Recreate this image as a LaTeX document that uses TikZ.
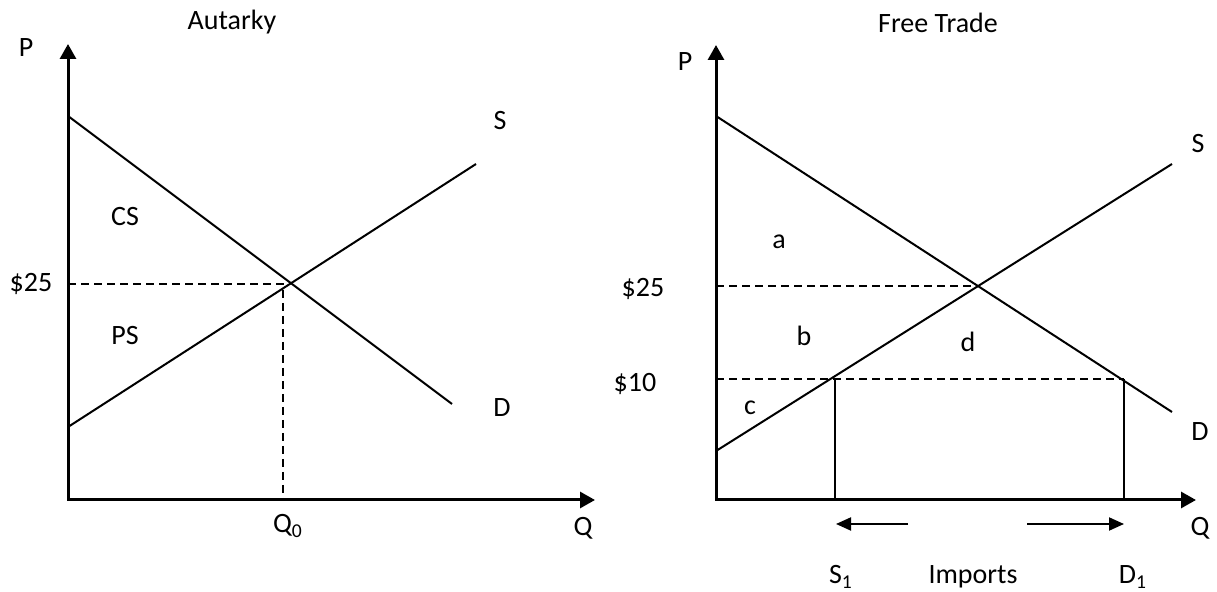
\documentclass[tikz,border=0pt]{standalone}
\usepackage{fontspec}
\setmainfont{Carlito}
\usetikzlibrary{arrows.meta, positioning}

\begin{document}
\begin{tikzpicture}[x=0.5pt, y=-0.5pt, >={Triangle[width=8pt,length=7.5pt]},
        font=\fontsize{14}{17}\selectfont,
        axis/.style={line width=1.5pt, <->},
        curve/.style={line width=1pt},
        guide/.style={line width=1pt, dash pattern=on 4pt off 2.5pt},
        move/.style={line width=1pt, -{Triangle[width=6.5pt,length=7.5pt]}}]
        \useasboundingbox (0,0) rectangle (1217,592);

        % Autarky
        \coordinate (aO) at (68,500);
        \coordinate (aPtop) at (68,44);
        \coordinate (aQend) at (595,500);
        \coordinate (aDa) at (68,116);
        \coordinate (aDb) at (452,404);
        \coordinate (aSa) at (68,427);
        \coordinate (aSb) at (476,164);
        \coordinate (aP25) at (68,284);
        \coordinate (aE) at (283,284);
        \coordinate (aQ0) at (283,500);
        \draw[axis] (aPtop) -- (aO) -- (aQend);
        \draw[curve] (aDa) -- (aDb);
        \draw[curve] (aSa) -- (aSb);
        \draw[guide] (aP25) -- (aE) -- (aQ0);
        \node (aTitle) at (232,22) {Autarky};
        \node (aP) at (26,48) {P};
        \node (aS) at (500,121) {S};
        \node (aD) at (502,408) {D};
        \node (aCS) at (125,217) {CS};
        \node (aPS) at (125,336) {PS};
        \node (a25) at (31,284) {\$25};
        \node (aQ0lbl) at (288,526) {Q\textsubscript{0}};
        \node (aQ) at (583,528) {Q};

        % Free trade
        \coordinate (fO) at (716,500);
        \coordinate (fPtop) at (716,45);
        \coordinate (fQend) at (1196,500);
        \coordinate (fDa) at (716,116);
        \coordinate (fDb) at (1172,412);
        \coordinate (fSa) at (716,451);
        \coordinate (fSb) at (1172,164);
        \coordinate (fP25) at (716,286);
        \coordinate (fE) at (978,286);
        \coordinate (fP10) at (716,379);
        \coordinate (fS1top) at (835,379);
        \coordinate (fD1top) at (1124,379);
        \coordinate (fS1) at (835,500);
        \coordinate (fD1) at (1124,500);
        \coordinate (fLa) at (908,524);
        \coordinate (fLb) at (836,524);
        \coordinate (fRa) at (1027,524);
        \coordinate (fRb) at (1124,524);
        \draw[axis] (fPtop) -- (fO) -- (fQend);
        \draw[curve] (fDa) -- (fDb);
        \draw[curve] (fSa) -- (fSb);
        \draw[guide] (fP25) -- (fE);
        \draw[guide] (fP10) -- (fD1top);
        \draw[curve] (fS1top) -- (fS1);
        \draw[curve] (fD1top) -- (fD1);
        \draw[move] (fLa) -- (fLb);
        \draw[move] (fRa) -- (fRb);
        \node (fTitle) at (938,23) {Free Trade};
        \node (fP) at (685,62) {P};
        \node (fS) at (1198,144) {S};
        \node (fa) at (779,242) {a};
        \node (f25) at (643,289) {\$25};
        \node (fb) at (804,336) {b};
        \node (fd) at (968,342) {d};
        \node (f10) at (635,384) {\$10};
        \node (fc) at (750,408) {c};
        \node (fD) at (1200,432) {D};
        \node (fQ) at (1200,528) {Q};
        \node (fS1lbl) at (841,577) {S\textsubscript{1}};
        \node (fImp) at (973,577) {Imports};
        \node (fD1lbl) at (1133,577) {D\textsubscript{1}};
\end{tikzpicture}
\end{document}
